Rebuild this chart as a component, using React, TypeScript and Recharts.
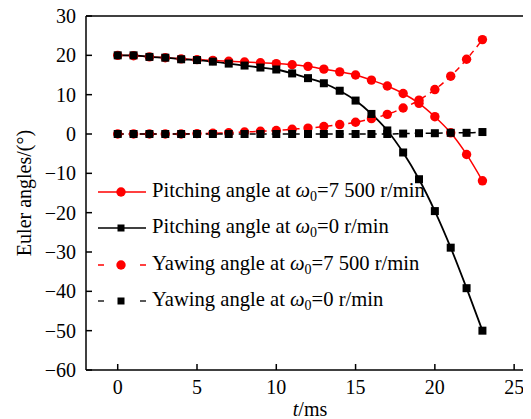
import { LineChart, Line, XAxis, YAxis, Legend, ReferenceLine, Label } from 'recharts';

// time axis (ms), one marker per millisecond
const timeMs = [0, 1, 2, 3, 4, 5, 6, 7, 8, 9, 10, 11, 12, 13, 14, 15, 16, 17, 18, 19, 20, 21, 22, 23];

// Euler angles in degrees
const pitch7500 = [20.0, 19.9, 19.6, 19.4, 19.1, 18.9, 18.7, 18.5, 18.3, 18.1, 17.9, 17.6, 17.2, 16.5, 15.8, 15.0, 13.7, 12.2, 10.3, 7.8, 4.4, 0.3, -5.2, -11.9];
const pitch0 = [20.0, 20.0, 19.6, 19.4, 19.0, 18.8, 18.4, 17.9, 17.4, 16.9, 16.4, 15.4, 14.2, 12.9, 11.0, 8.5, 5.1, 0.9, -4.7, -11.5, -19.6, -28.9, -39.2, -50.0];
const yaw7500 = [0, 0, 0, 0, 0, 0.1, 0.2, 0.3, 0.5, 0.7, 0.9, 1.2, 1.5, 1.9, 2.4, 3.0, 3.9, 5.0, 6.6, 8.6, 11.3, 14.7, 19.0, 24.0];
const yaw0 = [0, 0, 0, 0, 0, 0, 0, 0, 0, 0, 0, 0, 0, 0, 0, 0, 0, 0, 0.1, 0.2, 0.2, 0.3, 0.3, 0.5];

const xTicks = [0, 5, 10, 15, 20, 25];
const yTicks = [-60, -50, -40, -30, -20, -10, 0, 10, 20, 30];

const speeds = ['7 500', '0'];

const RED = '#ff0000';
const BLACK = '#000000';
const FONT = 'Liberation Serif, Times New Roman, serif';

const data = timeMs.map((t, i) => ({
  t,
  p7500: pitch7500[i],
  p0: pitch0[i],
  y7500: yaw7500[i],
  y0: yaw0[i],
}));

const legendRows = [
  { kind: 'Pitching', speed: speeds[0], color: RED, dashed: false, square: false },
  { kind: 'Pitching', speed: speeds[1], color: BLACK, dashed: false, square: true },
  { kind: 'Yawing', speed: speeds[0], color: RED, dashed: true, square: false },
  { kind: 'Yawing', speed: speeds[1], color: '#222', dashed: true, square: true },
];

const squareDot = (props: any) => {
  const { cx, cy, index } = props;
  if (cx == null || cy == null) return <g key={index} />;
  return <rect key={index} x={cx - 4} y={cy - 4} width={8} height={8} fill={BLACK} />;
};

const YTick = (props: any) => {
  const { x, y, payload } = props;
  return (
    <g>
      <line x1={x} x2={x + 6} y1={y} y2={y} stroke={BLACK} strokeWidth={1.5} />
      <text x={x - 10} y={y} dy={7} textAnchor="end" style={{ fontFamily: FONT, fontSize: 20 }} fill={BLACK}>
        {payload.value < 0 ? '\u2212' + Math.abs(payload.value) : payload.value}
      </text>
    </g>
  );
};

const XTick = (props: any) => {
  const { x, y, payload } = props;
  return (
    <g>
      <line x1={x} x2={x} y1={y} y2={y - 6} stroke={BLACK} strokeWidth={1.5} />
      <text x={x} y={y + 24} textAnchor="middle" style={{ fontFamily: FONT, fontSize: 20 }} fill={BLACK}>
        {payload.value}
      </text>
    </g>
  );
};

const renderLegend = () => (
  <div style={{ fontFamily: FONT, fontSize: 20.6, color: BLACK }}>
    {legendRows.map((row, i) => (
      <div key={i} style={{ height: 36.3, display: 'flex', alignItems: 'center', whiteSpace: 'nowrap' }}>
        <svg width={50} height={20} style={{ marginRight: 5, flexShrink: 0 }}>
          {row.dashed ? (
            <g stroke={row.color} strokeWidth={1.5}>
              <line x1={1} x2={7} y1={10} y2={10} />
              <line x1={43} x2={49} y1={10} y2={10} />
            </g>
          ) : (
            <line x1={1} x2={49} y1={10} y2={10} stroke={row.color} strokeWidth={1.5} />
          )}
          {row.square ? (
            <rect x={20.5} y={6.5} width={7} height={7} fill={BLACK} />
          ) : (
            <circle cx={24} cy={10} r={4.7} fill={row.color} />
          )}
        </svg>
        <span>
          {row.kind} angle at <i>ω</i>
          <sub style={{ fontSize: 14, verticalAlign: -4 }}>0</sub>={row.speed} r/min
        </span>
      </div>
    ))}
  </div>
);

const renderYLabel = (props: any) => {
  const { viewBox } = props;
  const cx = viewBox.x + 24;
  const cy = viewBox.y + viewBox.height / 2;
  return (
    <text x={cx} y={cy} transform={`rotate(-90 ${cx} ${cy})`} textAnchor="middle" dominantBaseline="central" style={{ fontFamily: FONT, fontSize: 20 }} fill={BLACK}>
      Euler angles/(°)
    </text>
  );
};

const renderXLabel = (props: any) => {
  const { viewBox } = props;
  const cx = viewBox.x + viewBox.width / 2 + 2;
  return (
    <text x={cx} y={416} textAnchor="middle" style={{ fontFamily: FONT, fontSize: 20 }} fill={BLACK}>
      <tspan fontStyle="italic">t</tspan>/ms
    </text>
  );
};

export default function App() {
  return (
    <div style={{ margin: '-8px -8px 0 -8px', width: 531, height: 419, overflow: 'hidden', background: '#fff' }}>
      <LineChart width={531} height={419} data={data} margin={{ top: 16, right: 1, bottom: 0, left: 0 }}>
        <XAxis
          dataKey="t"
          type="number"
          domain={[-2, 26]}
          ticks={xTicks}
          allowDataOverflow
          height={49}
          tickSize={0}
          tickMargin={0}
          tick={<XTick />}
          tickLine={false}
          axisLine={{ stroke: BLACK, strokeWidth: 1.5 }}
          label={<Label content={renderXLabel} />}
        />
        <YAxis
          type="number"
          domain={[-60, 30]}
          ticks={yTicks}
          allowDataOverflow
          width={86}
          tickSize={0}
          tickMargin={0}
          tick={<YTick />}
          tickLine={false}
          axisLine={{ stroke: BLACK, strokeWidth: 1.5 }}
          label={<Label content={renderYLabel} />}
        />
        <ReferenceLine y={30} stroke={BLACK} strokeWidth={1.5} />
        <Legend
          layout="vertical"
          align="center"
          verticalAlign="middle"
          content={renderLegend}
          wrapperStyle={{ left: 97, top: 174, width: 'auto' }}
        />
        <Line
          dataKey="p7500"
          type="monotone"
          stroke={RED}
          strokeWidth={1.5}
          dot={{ r: 4.7, fill: RED, stroke: RED, strokeWidth: 0 }}
          isAnimationActive={false}
        />
        <Line
          dataKey="y7500"
          type="monotone"
          stroke={RED}
          strokeWidth={1.5}
          strokeDasharray="6 5"
          dot={{ r: 4.7, fill: RED, stroke: RED, strokeWidth: 0 }}
          isAnimationActive={false}
        />
        <Line
          dataKey="p0"
          type="monotone"
          stroke={BLACK}
          strokeWidth={1.8}
          dot={squareDot}
          isAnimationActive={false}
        />
        <Line
          dataKey="y0"
          type="monotone"
          stroke={BLACK}
          strokeWidth={1.5}
          strokeDasharray="6 5"
          dot={squareDot}
          isAnimationActive={false}
        />
      </LineChart>
    </div>
  );
}
